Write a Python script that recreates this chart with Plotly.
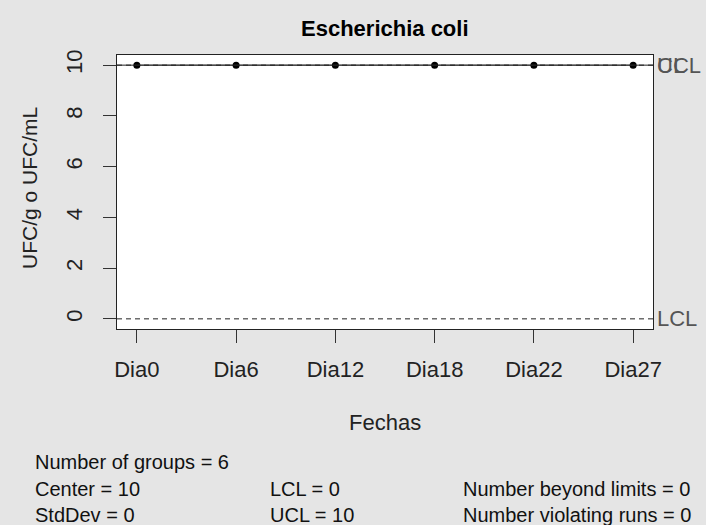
import plotly.graph_objects as go

categories = ["Dia0", "Dia6", "Dia12", "Dia18", "Dia22", "Dia27"]
values = [10, 10, 10, 10, 10, 10]
center = 10
lcl = 0
ucl = 10
y_ticks = [0, 2, 4, 6, 8, 10]
stats_col1 = ["Number of groups = 6", "Center = 10", "StdDev = 0"]
stats_col2 = ["", "LCL = 0", "UCL = 10"]
stats_col3 = ["", "Number beyond limits = 0", "Number violating runs = 0"]

FONT = "Liberation Sans, Arial, sans-serif"
W, H = 706, 525
L, R, T, B = 117, 653, 55, 329


def px_x(p):
    return (p - L) / (R - L)


def px_y(p):
    return (B - p) / (B - T)


fig = go.Figure()
fig.add_trace(go.Scatter(
    x=list(range(len(categories))), y=values, mode="lines+markers",
    line=dict(color="#555555", width=1),
    marker=dict(color="black", size=7),
    showlegend=False, hoverinfo="skip"))

# control lines
fig.add_shape(type="line", xref="x domain", yref="y", x0=0, x1=1, y0=center, y1=center,
              line=dict(color="#222222", width=1))
fig.add_shape(type="line", xref="x domain", yref="y", x0=0, x1=1, y0=ucl, y1=ucl,
              line=dict(color="#222222", width=1, dash="5px,4px"))
fig.add_shape(type="line", xref="x domain", yref="y", x0=0, x1=1, y0=lcl, y1=lcl,
              line=dict(color="#222222", width=1, dash="5px,4px"))

for lab, yv in [("UCL", ucl), ("CL", center), ("LCL", lcl)]:
    fig.add_annotation(x=1, xref="x domain", y=yv, yref="y", text=lab, showarrow=False,
                       xanchor="left", yanchor="middle", xshift=2,
                       font=dict(family=FONT, size=22, color="#555555"))

fig.add_annotation(x=px_x((L + R) / 2), xref="paper", y=px_y(28), yref="paper",
                   text="<b>Escherichia coli</b>", showarrow=False,
                   xanchor="center", yanchor="middle",
                   font=dict(family=FONT, size=22, color="black"))
fig.add_annotation(x=px_x((L + R) / 2), xref="paper", y=px_y(422), yref="paper",
                   text="Fechas", showarrow=False,
                   xanchor="center", yanchor="middle",
                   font=dict(family=FONT, size=22, color="#222222"))
fig.add_annotation(x=px_x(29), xref="paper", y=px_y(188), yref="paper",
                   text="UFC/g o UFC/mL", showarrow=False, textangle=-90,
                   xanchor="center", yanchor="middle",
                   font=dict(family=FONT, size=21, color="#222222"))

rows_y = [462, 489, 515]
for col, xpx in [(stats_col1, 33), (stats_col2, 268), (stats_col3, 461)]:
    for txt, ypx in zip(col, rows_y):
        if txt:
            fig.add_annotation(x=px_x(xpx), xref="paper", y=px_y(ypx), yref="paper",
                               text=txt, showarrow=False, xanchor="left", yanchor="middle",
                               font=dict(family=FONT, size=20, color="#111111"))

fig.update_layout(
    width=W, height=H,
    margin=dict(l=L, r=W - R, t=T, b=H - B, pad=0),
    paper_bgcolor="#e5e5e5", plot_bgcolor="white",
    font=dict(family=FONT, size=22, color="#222222"),
    xaxis=dict(range=[-0.2, len(categories) - 0.8], tickvals=list(range(len(categories))),
               ticktext=categories, ticks="outside", ticklen=13, tickcolor="#333333",
               showline=True, linecolor="#222222", mirror=True, showgrid=False, zeroline=False,
               ticklabelstandoff=8),
    yaxis=dict(range=[-0.4, 10.4], tickvals=y_ticks, ticks="outside", ticklen=13,
               tickcolor="#333333", tickangle=-90,
               showline=True, linecolor="#222222", mirror=True, showgrid=False, zeroline=False,
               ticklabelstandoff=12),
)
fig.write_html("out.html")
